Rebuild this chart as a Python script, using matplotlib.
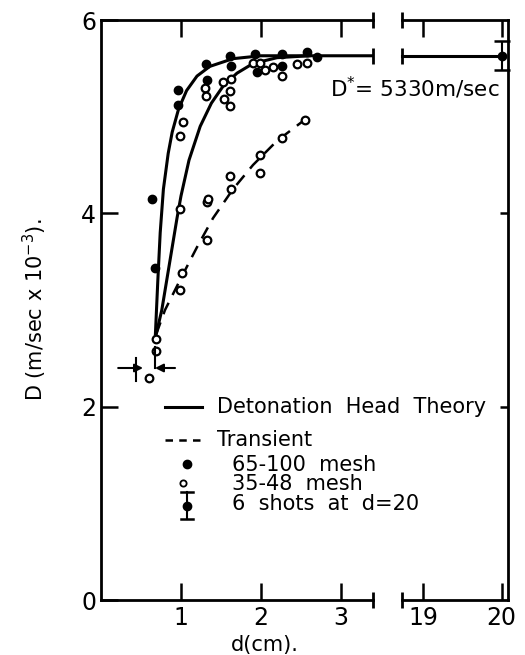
import numpy as np
import matplotlib
matplotlib.use("Agg")
import matplotlib.pyplot as plt
from matplotlib.lines import Line2D

plt.rcParams['font.family'] = ['DejaVu Sans']

# 65-100 mesh (solid points)
fine_d = [0.64, 0.67, 0.96, 0.96, 1.31, 1.32, 1.61, 1.62, 1.92, 1.95, 2.26, 2.26, 2.57, 2.70]
fine_D = [4.15, 3.43, 5.28, 5.12, 5.54, 5.38, 5.63, 5.52, 5.65, 5.46, 5.65, 5.52, 5.67, 5.62]

# 35-48 mesh (open points)
coarse_d = [0.60, 0.69, 0.69, 0.99, 0.99, 1.01, 0.99, 1.03, 1.30, 1.31, 1.32, 1.32, 1.34,
            1.53, 1.62, 1.61, 1.54, 1.61, 1.61, 1.63, 1.90, 1.99, 2.05, 2.15, 2.26,
            2.45, 2.57, 1.99, 1.99, 2.26, 2.55]
coarse_D = [2.30, 2.58, 2.70, 3.21, 4.05, 3.38, 4.80, 4.95, 5.30, 5.21, 4.12, 3.72, 4.15,
            5.36, 5.39, 5.27, 5.18, 5.11, 4.39, 4.25, 5.56, 5.56, 5.48, 5.51, 5.42,
            5.54, 5.56, 4.60, 4.42, 4.78, 4.97]

# theory curves
theory1_d = [0.68, 0.71, 0.74, 0.78, 0.84, 0.89, 0.97, 1.07, 1.20, 1.36, 1.65, 2.00, 2.60, 3.40]
theory1_D = [2.75, 3.30, 3.80, 4.25, 4.62, 4.84, 5.08, 5.27, 5.42, 5.52, 5.60, 5.63, 5.63, 5.63]
theory2_d = [0.69, 0.76, 0.82, 0.89, 0.95, 1.00, 1.10, 1.24, 1.38, 1.53, 1.70, 1.90, 2.20, 2.60]
theory2_D = [2.75, 3.00, 3.30, 3.65, 3.95, 4.18, 4.55, 4.90, 5.14, 5.32, 5.45, 5.55, 5.61, 5.63]
trans_d = [0.69, 0.80, 1.00, 1.20, 1.40, 1.65, 1.90, 2.20, 2.55]
trans_D = [2.75, 3.00, 3.33, 3.65, 3.95, 4.25, 4.50, 4.75, 4.97]

# d = 20 cm
far_d = [18.73, 20.0]
far_D = [5.63, 5.63]
shot_d, shot_D, shot_err = 20.0, 5.63, 0.15

fig = plt.figure(figsize=(5.25, 6.55), dpi=100)
W, H = 525, 655
ax1 = fig.add_axes([101 / W, 1 - 600 / H, 272 / W, 580 / H])
ax2 = fig.add_axes([402 / W, 1 - 600 / H, 106 / W, 580 / H])

lw = 2.2
ax1.plot(theory1_d, theory1_D, color='black', lw=lw)
ax1.plot(theory2_d, theory2_D, color='black', lw=lw)
ax1.plot(trans_d, trans_D, color='black', lw=1.8, ls=(0, (5, 3.5)))
ax1.plot(fine_d, fine_D, 'o', color='black', ms=6)
ax1.plot(coarse_d, coarse_D, 'o', mfc='white', mec='black', mew=1.6, ms=5.5)
ax1.plot([3.4], [5.63], '|', color='black', ms=12, mew=2, clip_on=False)

# critical diameter arrows
ax1.annotate('', xy=(0.56, 2.40), xytext=(0.18, 2.40),
             arrowprops=dict(arrowstyle='-|>', color='black', lw=1.5, mutation_scale=12))
ax1.annotate('', xy=(0.64, 2.40), xytext=(0.96, 2.40),
             arrowprops=dict(arrowstyle='-|>', color='black', lw=1.5, mutation_scale=12))
ax1.plot([0.44, 0.44], [2.27, 2.50], color='black', lw=1.5)
ax1.plot([0.67, 0.67], [2.40, 2.62], color='black', lw=1.5)

ax2.plot(far_d, far_D, color='black', lw=lw, clip_on=False)
ax2.plot([18.73], [5.63], '|', color='black', ms=12, mew=2, clip_on=False)
ax2.errorbar([shot_d], [shot_D], yerr=[shot_err], fmt='o', color='black', ms=6,
             capsize=6, elinewidth=1.5, capthick=1.8, clip_on=False)

for ax in (ax1, ax2):
    ax.set_ylim(0, 6.0)
    for s in ax.spines.values():
        s.set_linewidth(2)
ax1.set_xlim(0, 3.4)
ax2.set_xlim(18.73, 20.08)
ax1.spines['right'].set_visible(False)
ax2.spines['left'].set_visible(False)

ax1.set_xticks([1, 2, 3])
ax1.set_xticklabels(['1', '2', '3'])
ax1.set_yticks([0, 2, 4, 6])
ax1.set_yticklabels(['0', '2', '4', '6'])
ax1.tick_params(axis='both', direction='in', length=12, width=1.8, labelsize=17,
                top=True, right=False)
ax1.tick_params(axis='x', pad=4)
ax2.set_xticks([19, 20])
ax2.set_xticklabels(['19', '20'])
ax2.set_yticks([2, 4])
ax2.tick_params(axis='both', direction='in', length=12, width=1.8, labelsize=17,
                top=True, left=False, right=True, labelleft=False)
ax2.tick_params(axis='y', length=6)
ax2.tick_params(axis='x', pad=4)

# break marks
ax1.plot([3.4], [0], '|', color='black', ms=12, mew=2, clip_on=False)
ax1.plot([3.4], [6], '|', color='black', ms=12, mew=2, clip_on=False)
ax2.plot([18.73], [0], '|', color='black', ms=12, mew=2, clip_on=False)
ax2.plot([18.73], [6], '|', color='black', ms=12, mew=2, clip_on=False)

def fx(px):
    return px / W

def fy(py):
    return 1 - py / H

fig.text(fx(330), fy(88), 'D$^{*}$= 5330m/sec', fontsize=15.5, va='center', ha='left')

# legend
fig.add_artist(Line2D([fx(165), fx(202)], [fy(407), fy(407)], color='black', lw=lw))
fig.text(fx(217), fy(407), 'Detonation  Head  Theory', fontsize=15, va='center')
fig.add_artist(Line2D([fx(165), fx(202)], [fy(440), fy(440)], color='black', lw=1.8,
                      ls=(0, (3, 2.5))))
fig.text(fx(217), fy(440), 'Transient', fontsize=15, va='center')
fig.add_artist(Line2D([fx(187)], [fy(464)], marker='o', color='black', ms=6))
fig.text(fx(232), fy(465), '65-100  mesh', fontsize=15, va='center')
fig.add_artist(Line2D([fx(183)], [fy(483)], marker='o', mfc='white', mec='black', mew=1.3, ms=4.5))
fig.text(fx(232), fy(484), '35-48  mesh', fontsize=15, va='center')
fig.add_artist(Line2D([fx(187), fx(187)], [fy(492), fy(519)], color='black', lw=1.5))
fig.add_artist(Line2D([fx(181), fx(193)], [fy(492), fy(492)], color='black', lw=1.8))
fig.add_artist(Line2D([fx(181), fx(193)], [fy(519), fy(519)], color='black', lw=1.8))
fig.add_artist(Line2D([fx(187)], [fy(506)], marker='o', color='black', ms=6))
fig.text(fx(232), fy(504), '6  shots  at  d=20', fontsize=15, va='center')

fig.text(fx(265), fy(645), 'd(cm).', fontsize=15, ha='center', va='center')
fig.text(fx(35), fy(310), 'D (m/sec x 10$^{-3}$).', fontsize=15, rotation=90,
         ha='center', va='center')

fig.savefig('out.png', dpi=100)
